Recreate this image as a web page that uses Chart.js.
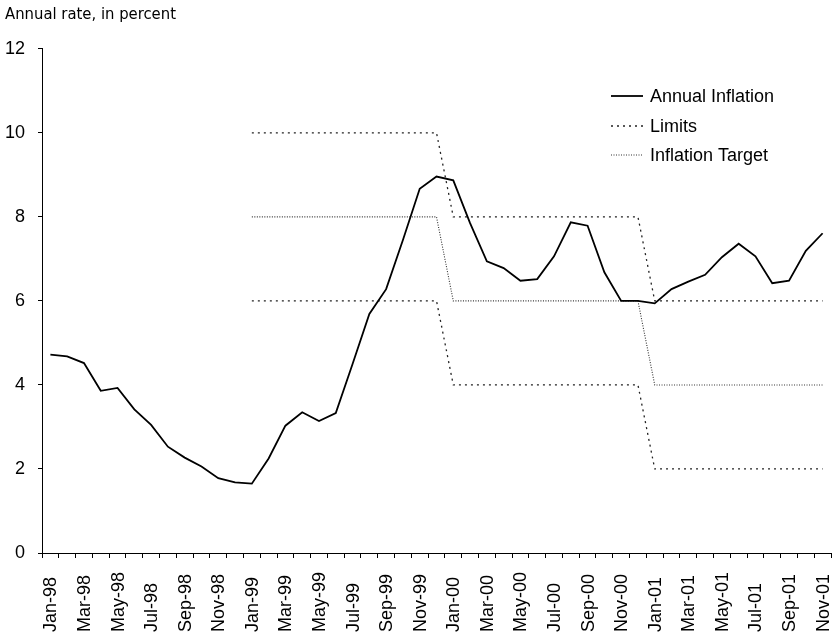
<!DOCTYPE html>
<html>
<head>
<meta charset="utf-8">
<script src="https://cdn.jsdelivr.net/npm/chart.js@4/dist/chart.umd.min.js"></script>
<style>
  html, body { margin: 0; padding: 0; background: #fff; }
  #wrap { width: 834px; height: 636px; }
</style>
</head>
<body>
<div id="wrap"><canvas id="inflationChart"></canvas></div>
<script>
// monthly, Jan-98 .. Nov-01
const months = [
  'Jan-98','Feb-98','Mar-98','Apr-98','May-98','Jun-98','Jul-98','Aug-98','Sep-98','Oct-98','Nov-98','Dec-98',
  'Jan-99','Feb-99','Mar-99','Apr-99','May-99','Jun-99','Jul-99','Aug-99','Sep-99','Oct-99','Nov-99','Dec-99',
  'Jan-00','Feb-00','Mar-00','Apr-00','May-00','Jun-00','Jul-00','Aug-00','Sep-00','Oct-00','Nov-00','Dec-00',
  'Jan-01','Feb-01','Mar-01','Apr-01','May-01','Jun-01','Jul-01','Aug-01','Sep-01','Oct-01','Nov-01'
];

const annualInflation = [
  4.72, 4.68, 4.52, 3.86, 3.93, 3.42, 3.05, 2.53, 2.27, 2.06, 1.78, 1.68,
  1.65, 2.25, 3.03, 3.35, 3.14, 3.33, 4.50, 5.69, 6.28, 7.45, 8.67, 8.96,
  8.87, 7.85, 6.94, 6.78, 6.48, 6.52, 7.06, 7.87, 7.79, 6.68, 6.00, 6.00,
  5.94, 6.28, 6.46, 6.62, 7.04, 7.36, 7.06, 6.42, 6.48, 7.19, 7.61
];

const upperLimit = [
  null, null, null, null, null, null, null, null, null, null, null, null,
  10, 10, 10, 10, 10, 10, 10, 10, 10, 10, 10, 10,
  8, 8, 8, 8, 8, 8, 8, 8, 8, 8, 8, 8,
  6, 6, 6, 6, 6, 6, 6, 6, 6, 6, 6
];

const lowerLimit = [
  null, null, null, null, null, null, null, null, null, null, null, null,
  6, 6, 6, 6, 6, 6, 6, 6, 6, 6, 6, 6,
  4, 4, 4, 4, 4, 4, 4, 4, 4, 4, 4, 4,
  2, 2, 2, 2, 2, 2, 2, 2, 2, 2, 2
];

const inflationTarget = [
  null, null, null, null, null, null, null, null, null, null, null, null,
  8, 8, 8, 8, 8, 8, 8, 8, 8, 8, 8, 8,
  6, 6, 6, 6, 6, 6, 6, 6, 6, 6, 6, 6,
  4, 4, 4, 4, 4, 4, 4, 4, 4, 4, 4
];

const yTicks = [0, 2, 4, 6, 8, 10, 12];

const sansFont = "'Liberation Sans', Arial, sans-serif";

// x labels: every other month, written bottom-aligned like the original
const monthLabels = {
  id: 'monthLabels',
  afterDraw(chart) {
    const ctx = chart.ctx;
    const x = chart.scales.x;
    ctx.save();
    ctx.fillStyle = '#000';
    ctx.font = '18px ' + sansFont;
    ctx.textAlign = 'left';
    ctx.textBaseline = 'middle';
    months.forEach((m, i) => {
      if (i % 2 !== 0) return;
      const px = x.getPixelForTick(i);
      ctx.save();
      ctx.translate(px + 1, 632);
      ctx.rotate(-Math.PI / 2);
      ctx.fillText(m, 0, 0);
      ctx.restore();
    });
    ctx.restore();
  }
};

// legend in the top right corner of the plot
const cornerLegend = {
  id: 'cornerLegend',
  afterDraw(chart) {
    const ctx = chart.ctx;
    const items = [
      { text: 'Annual Inflation', ds: chart.data.datasets[0], y: 96 },
      { text: 'Limits', ds: chart.data.datasets[1], y: 126 },
      { text: 'Inflation Target', ds: chart.data.datasets[3], y: 155 }
    ];
    ctx.save();
    ctx.font = '18px ' + sansFont;
    ctx.textBaseline = 'middle';
    ctx.textAlign = 'left';
    items.forEach(it => {
      ctx.beginPath();
      ctx.strokeStyle = it.ds.borderColor;
      ctx.lineWidth = it.ds.borderWidth;
      ctx.setLineDash(it.ds.borderDash || []);
      ctx.moveTo(611, it.y);
      ctx.lineTo(643, it.y);
      ctx.stroke();
      ctx.setLineDash([]);
      ctx.fillStyle = '#000';
      ctx.fillText(it.text, 650, it.y + 1);
    });
    ctx.restore();
  }
};

const limitStyle = {
  borderColor: '#222',
  borderWidth: 1.3,
  borderDash: [2, 4]
};

const config = {
  type: 'line',
  data: {
    labels: months,
    datasets: [
      {
        label: 'Annual Inflation',
        data: annualInflation,
        borderColor: '#000',
        borderWidth: 1.8,
        pointRadius: 0,
        tension: 0
      },
      Object.assign({ label: 'Limits', data: upperLimit, pointRadius: 0, spanGaps: false }, limitStyle),
      Object.assign({ label: 'Limits (lower)', data: lowerLimit, pointRadius: 0, spanGaps: false }, limitStyle),
      {
        label: 'Inflation Target',
        data: inflationTarget,
        borderColor: '#333',
        borderWidth: 1.1,
        borderDash: [1, 1.5],
        pointRadius: 0
      }
    ]
  },
  options: {
    responsive: true,
    maintainAspectRatio: false,
    animation: false,
    layout: { padding: { left: 5, right: 3, top: 0, bottom: 0 } },
    plugins: {
      legend: { display: false },
      tooltip: { enabled: false },
      title: {
        display: true,
        text: 'Annual rate, in percent',
        align: 'start',
        color: '#000',
        font: { family: "'Liberation Sans Narrow', 'DejaVu Sans Condensed', sans-serif", size: 16.5, weight: 'normal' },
        padding: { top: 5, bottom: 24 }
      }
    },
    scales: {
      x: {
        type: 'category',
        offset: true,
        border: { color: '#000', width: 1 },
        grid: {
          offset: true,
          drawOnChartArea: false,
          drawTicks: true,
          tickLength: 5,
          color: '#000'
        },
        ticks: { display: false },
        afterFit(scale) { scale.height = 83; }
      },
      y: {
        min: 0,
        max: 12,
        border: { color: '#000', width: 1 },
        grid: {
          drawOnChartArea: false,
          drawTicks: true,
          tickLength: 4,
          color: '#000'
        },
        afterBuildTicks(scale) {
          scale.ticks = yTicks.map(v => ({ value: v }));
        },
        ticks: {
          color: '#000',
          padding: 13,
          font: { family: sansFont, size: 18 }
        },
        afterFit(scale) { scale.width = 37; }
      }
    }
  },
  plugins: [monthLabels, cornerLegend]
};

var ctx = document.getElementById('inflationChart').getContext('2d');
new Chart(ctx, config);
</script>
</body>
</html>
